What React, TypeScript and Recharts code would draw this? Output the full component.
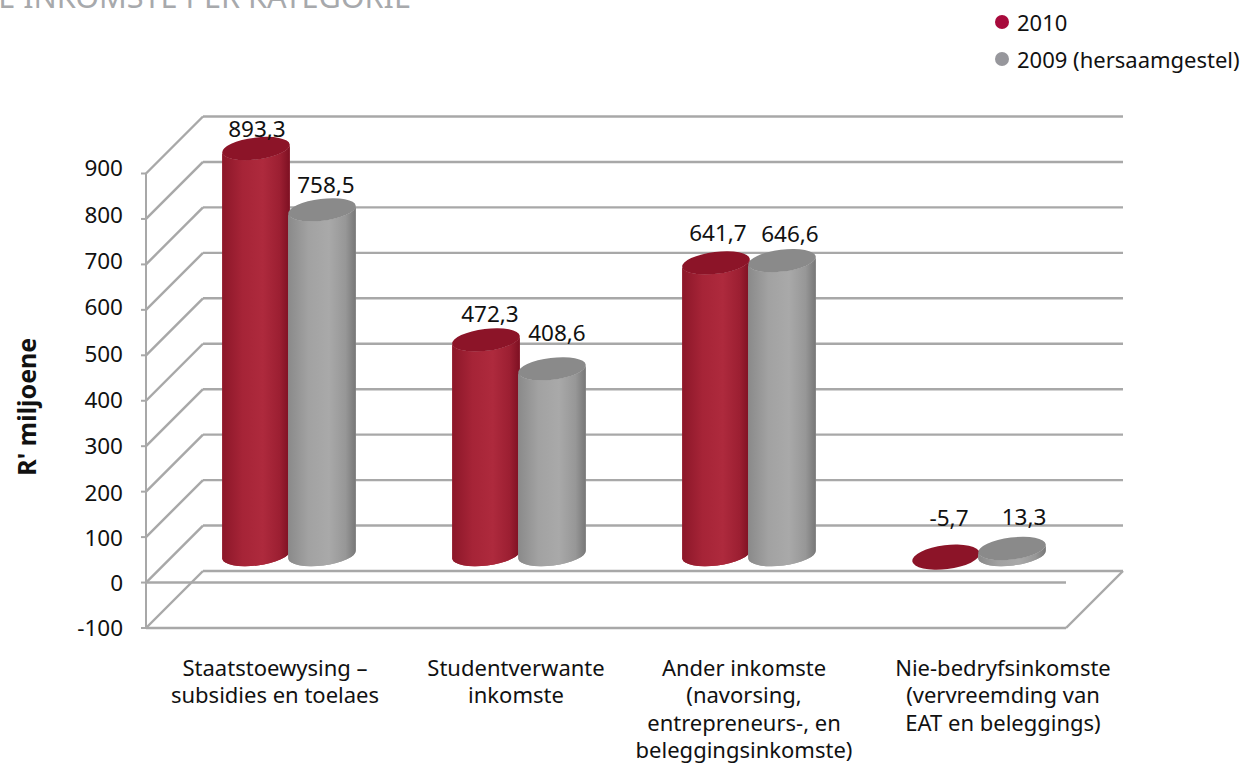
import React from "react";
import { BarChart, Bar, XAxis, YAxis, CartesianGrid, LabelList, Legend, ReferenceLine } from "recharts";

const categories = [
  "Staatstoewysing –\nsubsidies en toelaes",
  "Studentverwante\ninkomste",
  "Ander inkomste\n(navorsing,\nentrepreneurs-, en\nbeleggingsinkomste)",
  "Nie-bedryfsinkomste\n(vervreemding van\nEAT en beleggings)",
];
const values2010 = [893.3, 472.3, 641.7, -5.7];
const values2009 = [758.5, 408.6, 646.6, 13.3];
const yTicks = [-100, 0, 100, 200, 300, 400, 500, 600, 700, 800, 900];
const seriesNames = ["2010", "2009 (hersaamgestel)"];
const titleText = "E INKOMSTE PER KATEGORIE";
const yAxisTitle = "R' miljoene";

const data = categories.map((category, i) => ({
  category,
  v2010: values2010[i],
  v2009: values2009[i],
}));

const FONT = "'Noto Sans', sans-serif";
const TEXT = "#111111";
const GRID = "#a8a8a8";
const DEPTH = 57;
const MID = 28;
const TILT = -7;

const tickNudge = [14, 25, 23, 52];
const labelNudge2010 = [[1, -20], [4, -26], [2, -30], [3, -40]];
const labelNudge2009 = [[4, -25], [5, -36], [8, -27], [12, -32]];
const yTickNudge = [0, 0.5, 0.5, 1, 0, -1, -1.5, -2.5, -3, -4, -5];

function Cylinder(props: any) {
  const { x, y, width, height, value, gradient, top, side } = props;
  const rx = width / 2;
  const ry = 11;
  const cx = x + rx + MID;
  const low = Math.max(y, y + height);
  const high = Math.min(y, y + height);
  const topY = (value >= 0 ? high : low) - MID;
  const baseY = (value >= 0 ? low : high) - MID;
  const rad = (TILT * Math.PI) / 180;
  const dx = rx * Math.cos(rad);
  const dy = rx * Math.sin(rad);
  const transform = `rotate(${TILT} ${cx} ${topY})`;
  if (value < 0) {
    return <ellipse cx={cx} cy={topY} rx={rx} ry={12} fill={top} transform={transform} />;
  }
  const d =
    `M${cx - dx} ${topY - dy} L${cx - dx} ${baseY - dy} ` +
    `A${rx} ${ry} ${TILT} 0 0 ${cx + dx} ${baseY + dy} ` +
    `L${cx + dx} ${topY + dy} A${rx} ${ry} ${TILT} 0 1 ${cx - dx} ${topY - dy} Z`;
  return (
    <g>
      <path d={d} fill={side} />
      <path d={d} fill={`url(#${gradient})`} />
      <ellipse cx={cx} cy={topY} rx={rx} ry={ry} fill={top} transform={transform} />
    </g>
  );
}

function XTick(props: any) {
  const { x, y, payload, index } = props;
  const lines = String(payload.value).split("\n");
  return (
    <text x={x + tickNudge[index]} y={y + 40} textAnchor="middle" fontFamily={FONT} fontSize={22} fill={TEXT}>
      {lines.map((line: string, i: number) => (
        <tspan key={i} x={x + tickNudge[index]} dy={i === 0 ? 0 : 27.4}>
          {line}
        </tspan>
      ))}
    </text>
  );
}

function YTick(props: any) {
  const { x, y, payload, index } = props;
  return (
    <text x={x} y={y + yTickNudge[index]} dy="0.355em" textAnchor="end" fontFamily={FONT} fontSize={22.5} fill={TEXT}>
      {payload.value}
    </text>
  );
}

function YTitle(props: any) {
  const { viewBox } = props;
  const cx = 26;
  const cy = viewBox.y + viewBox.height / 2 + 6;
  return (
    <text
      x={cx}
      y={cy}
      transform={`rotate(-90 ${cx} ${cy})`}
      textAnchor="middle"
      dominantBaseline="central"
      fontFamily={FONT}
      fontSize={25}
      fontWeight={700}
      fill={TEXT}
    >
      {yAxisTitle}
    </text>
  );
}

function GridLine(props: any) {
  const { x1, x2, y1 } = props;
  return (
    <g stroke={GRID} strokeWidth={2.4} fill="none">
      <line x1={x1 + DEPTH} x2={x2 + DEPTH} y1={y1 - DEPTH} y2={y1 - DEPTH} />
      <line x1={x1} x2={x1 + DEPTH} y1={y1} y2={y1 - DEPTH} />
    </g>
  );
}

function FloorFront(props: any) {
  const { x1, x2, y1 } = props;
  return (
    <g stroke={GRID} strokeWidth={2.4} fill="none">
      <line x1={x1} x2={x2} y1={y1} y2={y1} />
      <line x1={x2} x2={x2 + DEPTH} y1={y1} y2={y1 - DEPTH} />
    </g>
  );
}

function ZeroFront(props: any) {
  const { x1, x2, y1 } = props;
  return <line x1={x1} x2={x2} y1={y1} y2={y1} stroke={GRID} strokeWidth={2.4} />;
}

const makeLabel = (nudges: number[][]) => (props: any) => {
  const { x, y, width, height, value, index } = props;
  const base = value >= 0 ? Math.min(y, y + height) : Math.max(y, y + height);
  return (
    <text
      x={x + width / 2 + MID + nudges[index][0]}
      y={base - MID + nudges[index][1]}
      textAnchor="middle"
      dominantBaseline="central"
      fontFamily={FONT}
      fontSize={22.5}
      fill={TEXT}
    >
      {Number(value).toFixed(1).replace(".", ",")}
    </text>
  );
};

function LegendBox(props: any) {
  const items = props.payload || [];
  return (
    <div style={{ fontFamily: FONT, fontSize: 22, color: TEXT }}>
      {items.map((it: any, i: number) => (
        <div key={i} style={{ position: "absolute", left: 0, top: i * 37, height: 30, lineHeight: "30px", whiteSpace: "nowrap" }}>
          <span style={{ position: "absolute", left: 0, top: 8, width: 14, height: 14, borderRadius: 7, background: it.color }} />
          <span style={{ position: "absolute", left: 22, top: 0 }}>{it.value}</span>
        </div>
      ))}
    </div>
  );
}

export default function App() {
  return (
    <div style={{ position: "absolute", left: 0, top: 0, width: 1256, height: 765, overflow: "hidden", background: "#fff" }}>
      <BarChart
        width={1256}
        height={765}
        data={data}
        margin={{ top: 173.5, right: 190, bottom: 0, left: 0 }}
        barSize={68}
        barGap={-2}
      >
        <defs>
          <linearGradient id="redBody" x1="0" x2="1" y1="0" y2="0">
            <stop offset="0" stopColor="#8c1729" />
            <stop offset="0.3" stopColor="#a62437" />
            <stop offset="0.6" stopColor="#ae2a3d" />
            <stop offset="0.85" stopColor="#9c1f32" />
            <stop offset="1" stopColor="#7d1022" />
          </linearGradient>
          <linearGradient id="greyBody" x1="0" x2="1" y1="0" y2="0">
            <stop offset="0" stopColor="#8a8a8a" />
            <stop offset="0.3" stopColor="#a2a2a2" />
            <stop offset="0.6" stopColor="#a9a9a9" />
            <stop offset="0.85" stopColor="#979797" />
            <stop offset="1" stopColor="#777777" />
          </linearGradient>
        </defs>
        <text x={411} y={8} textAnchor="end" fontFamily={FONT} fontSize={30.6} fill="#a7a9ac">
          {titleText}
        </text>
        <CartesianGrid vertical={false} horizontal={(p: any) => <GridLine key={p.key} {...p} />} />
        <XAxis
          dataKey="category"
          axisLine={false}
          tickLine={false}
          height={137}
          interval={0}
          tick={(p: any) => <XTick {...p} />}
        />
        <YAxis
          width={146}
          domain={[-100, 900]}
          ticks={yTicks}
          interval={0}
          tick={(p: any) => <YTick {...p} />}
          tickSize={5}
          tickMargin={18}
          axisLine={{ stroke: GRID, strokeWidth: 2 }}
          tickLine={{ stroke: GRID, strokeWidth: 2 }}
          label={{ value: yAxisTitle, content: (p: any) => <YTitle {...p} /> }}
        />
        <ReferenceLine y={0} shape={(p: any) => <ZeroFront {...p} />} />
        <ReferenceLine y={-100} shape={(p: any) => <FloorFront {...p} />} />
        <Legend
          layout="vertical"
          align="center"
          verticalAlign="middle"
          itemSorter={null}
          content={(p: any) => <LegendBox {...p} />}
          wrapperStyle={{ left: 995, top: 7, width: 250, height: 70 }}
        />
        <Bar
          dataKey="v2010"
          name={seriesNames[0]}
          fill="#a80a3c"
          isAnimationActive={false}
          shape={(p: any) => <Cylinder {...p} gradient="redBody" top="#8c1428" side="#a62437" />}
        >
          <LabelList dataKey="v2010" content={makeLabel(labelNudge2010)} />
        </Bar>
        <Bar
          dataKey="v2009"
          name={seriesNames[1]}
          fill="#97979c"
          isAnimationActive={false}
          shape={(p: any) => <Cylinder {...p} gradient="greyBody" top="#8a8a8a" side="#a2a2a2" />}
        >
          <LabelList dataKey="v2009" content={makeLabel(labelNudge2009)} />
        </Bar>
      </BarChart>
    </div>
  );
}
